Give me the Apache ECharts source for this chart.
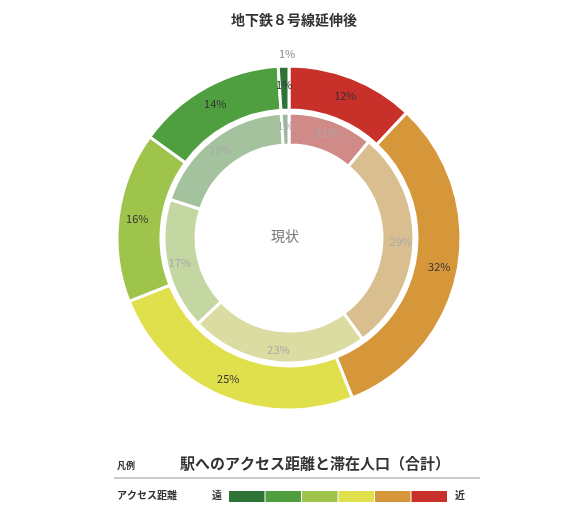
<!DOCTYPE html>
<html><head><meta charset="utf-8">
<script src="https://cdn.jsdelivr.net/npm/echarts@6/dist/echarts.min.js"></script>
<style>body{margin:0;background:#fff}#c{width:588px;height:512px}</style>
</head><body><div id="c"></div>
<script>
const categories = ["近", "2", "3", "4", "5", "遠"];
const afterValues = [12, 32, 25, 16, 14, 1];
const currentValues = [11, 29, 23, 17, 19, 1];
const outerColors = ["#c8302a", "#d6963a", "#e0df4c", "#9ec44b", "#4f9e40", "#2d7436"];
const innerColors = ["#d08a88", "#d9bf90", "#dadca2", "#c4d7a2", "#a3c29d", "#9fb79f"];
const FONT = "'Noto Sans CJK JP', sans-serif";

const chart = echarts.init(document.getElementById("c"));
const mk = (vals, cols) => vals.map((v, i) => ({ name: categories[i], value: v, itemStyle: { color: cols[i] } }));
const legendRects = outerColors.slice().reverse().map((c, i) => ({
  type: "rect", shape: { x: 229 + i * 36.5, y: 491, width: 35.5, height: 11 }, style: { fill: c }
}));
chart.setOption({
  title: { text: "地下鉄８号線延伸後", left: 289, top: 8, textAlign: "center",
    textStyle: { fontFamily: FONT, fontSize: 14, fontWeight: "bold", color: "#333" } },
  series: [
    { type: "pie", center: [289, 238], radius: [128, 172], startAngle: 90, clockwise: true,
      data: mk(afterValues, outerColors), itemStyle: { borderColor: "#fff", borderWidth: 3 },
      label: { position: "inside", formatter: "{c}%", fontFamily: FONT, fontSize: 11, color: "#333" },
      labelLine: { show: false }, silent: true },
    { type: "pie", center: [289, 238], radius: [93, 125], startAngle: 90, clockwise: true,
      data: mk(currentValues, innerColors), itemStyle: { borderColor: "#fff", borderWidth: 3 },
      label: { position: "inside", formatter: "{c}%", fontFamily: FONT, fontSize: 11, color: "#a8a8a8" },
      labelLine: { show: false }, silent: true }
  ],
  graphic: [
    { type: "rect", shape: { x: 284, y: 66, width: 10, height: 14 }, style: { fill: "#fff" } },
    { type: "text", left: 279, top: 48, style: { text: "1%", fontFamily: FONT, fontSize: 11, fill: "#888" } },
    { type: "text", left: 271, top: 229, style: { text: "現状", fontFamily: FONT, fontSize: 14, fill: "#777" } },
    { type: "text", left: 117, top: 461, style: { text: "凡例", fontFamily: FONT, fontSize: 9, fontWeight: "bold", fill: "#333" } },
    { type: "text", left: 180, top: 456, style: { text: "駅へのアクセス距離と滞在人口（合計）", fontFamily: FONT, fontSize: 15, fontWeight: "bold", fill: "#333" } },
    { type: "line", shape: { x1: 114, y1: 478, x2: 480, y2: 478 }, style: { stroke: "#999", lineWidth: 1 } },
    { type: "text", left: 117, top: 490, style: { text: "アクセス距離", fontFamily: FONT, fontSize: 10, fontWeight: "bold", fill: "#333" } },
    { type: "text", left: 212, top: 490, style: { text: "遠", fontFamily: FONT, fontSize: 10, fontWeight: "bold", fill: "#333" } },
    { type: "text", left: 455, top: 490, style: { text: "近", fontFamily: FONT, fontSize: 10, fontWeight: "bold", fill: "#333" } },
    ...legendRects
  ]
});
</script></body></html>
